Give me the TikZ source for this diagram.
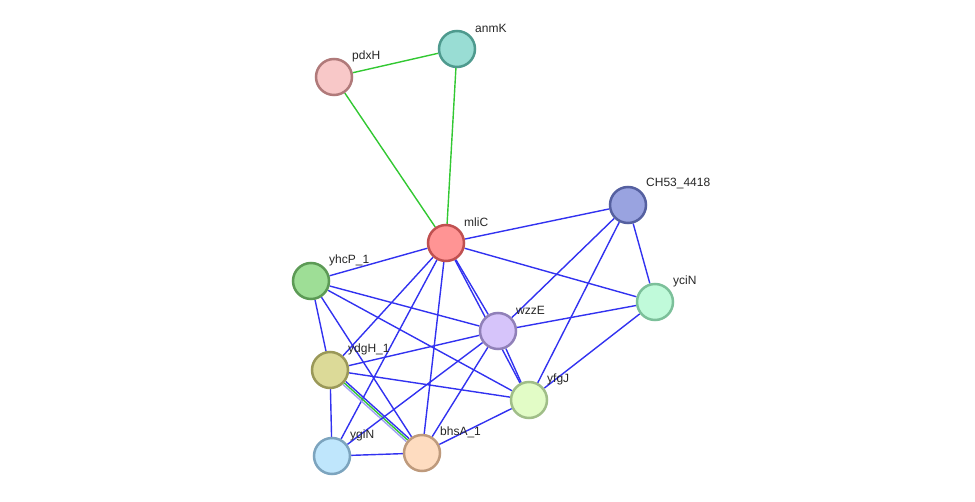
\documentclass[tikz,border=0pt]{standalone}
\usepackage{fontspec}
\setmainfont{Liberation Sans}
\usetikzlibrary{calc,backgrounds}
\definecolor{eblue}{RGB}{50,50,240}
\definecolor{egreen}{RGB}{50,200,50}
\definecolor{elav}{RGB}{160,160,245}
\tikzset{
  prot/.style={circle,minimum size=36pt,inner sep=0pt,line width=2.5pt},
  lbl/.style={anchor=west,inner sep=0pt,font=\fontsize{12}{14}\selectfont,text=black!85},
  eb/.style={draw=eblue,line width=1.4pt},
  eg/.style={draw=egreen,line width=1.4pt},
  el/.style={draw=elav,line width=1.4pt},
}
\begin{document}
\begin{tikzpicture}[x=1pt,y=-1pt]
\useasboundingbox (0,0) rectangle (975,502);
\node[prot,fill={rgb,255:red,248;green,200;blue,200},draw={rgb,255:red,176;green,122;blue,122}] (pdxH) at (334,77) {};
\node[prot,fill={rgb,255:red,153;green,221;blue,212},draw={rgb,255:red,78;green,154;blue,142}] (anmK) at (457,49) {};
\node[prot,fill={rgb,255:red,255;green,148;blue,148},draw={rgb,255:red,192;green,80;blue,80}] (mliC) at (446,243) {};
\node[prot,fill={rgb,255:red,153;green,163;blue,224},draw={rgb,255:red,85;green,96;blue,160}] (CH) at (628,205) {};
\node[prot,fill={rgb,255:red,158;green,222;blue,150},draw={rgb,255:red,92;green,154;blue,85}] (yhcP) at (311,281) {};
\node[prot,fill={rgb,255:red,192;green,250;blue,218},draw={rgb,255:red,124;green,192;blue,154}] (yciN) at (655,302) {};
\node[prot,fill={rgb,255:red,214;green,196;blue,250},draw={rgb,255:red,144;green,128;blue,184}] (wzzE) at (498,331) {};
\node[prot,fill={rgb,255:red,220;green,218;blue,152},draw={rgb,255:red,154;green,152;blue,88}] (ydgH) at (330,370) {};
\node[prot,fill={rgb,255:red,226;green,252;blue,198},draw={rgb,255:red,160;green,190;blue,136}] (yfgJ) at (529,400) {};
\node[prot,fill={rgb,255:red,191;green,230;blue,252},draw={rgb,255:red,124;green,164;blue,190}] (ygiN) at (332,456) {};
\node[prot,fill={rgb,255:red,254;green,220;blue,192},draw={rgb,255:red,190;green,154;blue,124}] (bhsA) at (422,453) {};

\node[lbl] (lpdxH) at ($(pdxH)+(18,-21)$) {pdxH};
\node[lbl] (lanmK) at ($(anmK)+(18,-21)$) {anmK};
\node[lbl] (lmliC) at ($(mliC)+(18,-21)$) {mliC};
\node[lbl] (lCH) at ($(CH)+(18,-21)$) {CH53\_4418};
\node[lbl] (lyhcP) at ($(yhcP)+(18,-21)$) {yhcP\_1};
\node[lbl] (lyciN) at ($(yciN)+(18,-21)$) {yciN};
\node[lbl] (lwzzE) at ($(wzzE)+(18,-21)$) {wzzE};
\node[lbl] (lydgH) at ($(ydgH)+(18,-21)$) {ydgH\_1};
\node[lbl] (lyfgJ) at ($(yfgJ)+(18,-21)$) {yfgJ};
\node[lbl] (lygiN) at ($(ygiN)+(18,-21)$) {ygiN};
\node[lbl] (lbhsA) at ($(bhsA)+(18,-21)$) {bhsA\_1};

\begin{scope}[on background layer]
\draw[eg] (pdxH) -- (anmK);
\draw[eg] (pdxH) -- (mliC);
\draw[eg] (anmK) -- (mliC);
\draw[eb] (mliC) -- (CH);
\draw[eb] (mliC) -- (yciN);
\draw[eb] (mliC) -- (yhcP);
\draw[eb] (mliC) -- (wzzE);
\draw[eb] (mliC) -- (yfgJ);
\draw[eb] (mliC) -- (ydgH);
\draw[eb] (mliC) -- (ygiN);
\draw[eb] (mliC) -- (bhsA);
\draw[eb] (CH) -- (wzzE);
\draw[eb] (CH) -- (yfgJ);
\draw[eb] (CH) -- (yciN);
\draw[eb] (yciN) -- (wzzE);
\draw[eb] (yciN) -- (yfgJ);
\draw[eb] (yhcP) -- (wzzE);
\draw[eb] (yhcP) -- (yfgJ);
\draw[eb] (yhcP) -- (ydgH);
\draw[eb] (yhcP) -- (bhsA);
\draw[eb] (ydgH) -- (wzzE);
\draw[eb] (ydgH) -- (yfgJ);
\draw[eb] (ydgH) -- (ygiN);
\draw[el,transform canvas={xshift=-1.4pt,yshift=-1.5pt}] (ydgH) -- (bhsA);
\draw[eg] (ydgH) -- (bhsA);
\draw[eb,transform canvas={xshift=1.4pt,yshift=1.5pt}] (ydgH) -- (bhsA);
\draw[eb] (wzzE) -- (ygiN);
\draw[eb] (wzzE) -- (bhsA);
\draw[eb] (wzzE) -- (yfgJ);
\draw[eb] (ygiN) -- (bhsA);
\draw[eb] (bhsA) -- (yfgJ);
\end{scope}
\end{tikzpicture}
\end{document}
